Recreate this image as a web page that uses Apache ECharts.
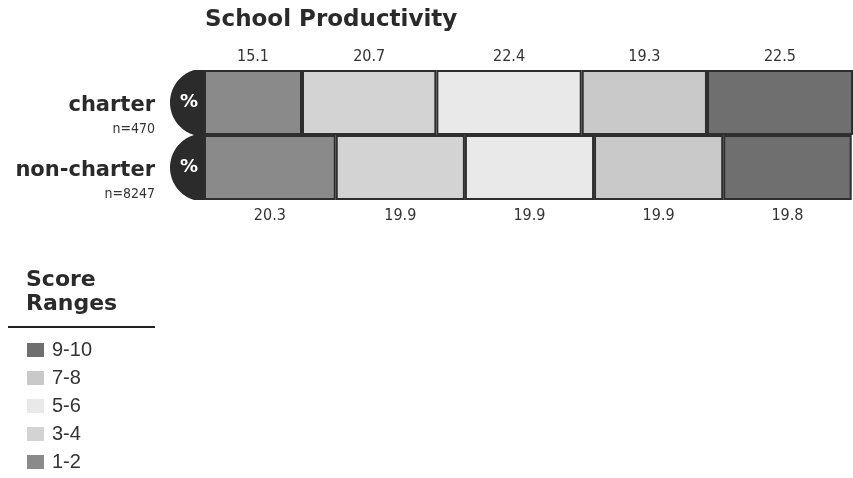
<!DOCTYPE html>
<html>
<head>
<meta charset="utf-8">
<title>School Productivity</title>
<script src="https://cdn.jsdelivr.net/npm/echarts@6/dist/echarts.min.js"></script>
<style>
  html, body { margin: 0; padding: 0; background: #ffffff; }
  #chart { width: 853px; height: 478px; }
</style>
</head>
<body>
<div id="chart"></div>
<script>
// School types and their sample sizes
const categories = ['charter', 'non-charter'];
const sampleSizes = ['n=470', 'n=8247'];

// Score ranges (legend order: highest first)
const scoreRanges = ['1-2', '3-4', '5-6', '7-8', '9-10'];
const legendOrder = ['9-10', '7-8', '5-6', '3-4', '1-2'];

// Percent of schools in each score range, per school type
const share12 = [15.1, 20.3];
const share34 = [20.7, 19.9];
const share56 = [22.4, 19.9];
const share78 = [19.3, 19.9];
const share910 = [22.5, 19.8];

const rangeColors = ['#8a8a8a', '#d3d3d3', '#e9e9e9', '#c9c9c9', '#6f6f6f'];
const seriesValues = [share12, share34, share56, share78, share910];

const narrowFont = "'Liberation Sans Narrow', 'DejaVu Sans', sans-serif";
const heavyFont = "'DejaVu Sans', sans-serif";

const barSeries = scoreRanges.map((name, s) => ({
  name: name,
  type: 'bar',
  stack: 'share',
  barWidth: '100%',
  z: 2,
  itemStyle: { color: rangeColors[s], borderColor: '#2e2e2e', borderWidth: 2 },
  label: {
    show: true,
    color: '#333',
    fontFamily: narrowFont,
    fontStyle: 'condensed',
    fontSize: 16,
    formatter: p => p.value.toFixed(1)
  },
  data: categories.map((c, i) => ({
    value: seriesValues[s][i],
    label: { position: i === 0 ? 'top' : 'bottom', distance: i === 0 ? 5 : 8 }
  }))
}));

// Dark rounded "%" cap at the left end of each row
const capSeries = {
  type: 'custom',
  z: 1,
  clip: false,
  silent: true,
  data: categories.map((c, i) => [0, i]),
  renderItem: function (params, api) {
    const p = api.coord([0, api.value(1)]);
    const h = api.size([0, 1])[1];
    const half = h / 2;
    const r = half + 1.5;
    const cx = p[0];
    const cy = p[1];
    const a = Math.asin(half / r);
    const pts = [];
    const steps = 40;
    for (let k = 0; k <= steps; k++) {
      const t = -a + (2 * a * k) / steps;
      pts.push([cx - r * Math.cos(t), cy + r * Math.sin(t)]);
    }
    pts.push([p[0] + 3, cy + half]);
    pts.push([p[0] + 3, cy - half]);
    return {
      type: 'group',
      children: [
        { type: 'polygon', shape: { points: pts }, style: { fill: '#2b2b2b' } },
        {
          type: 'text',
          style: {
            text: '%', x: p[0] - 15, y: cy, align: 'center', verticalAlign: 'middle',
            fill: '#ffffff', font: "bold 18px 'DejaVu Sans', sans-serif"
          }
        }
      ]
    };
  }
};

const chart = echarts.init(document.getElementById('chart'), null, { renderer: 'canvas' });

chart.setOption({
  backgroundColor: '#ffffff',
  animation: false,
  title: [
    {
      text: 'School Productivity',
      left: 205,
      top: 9,
      padding: 0,
      textStyle: { fontFamily: heavyFont, fontWeight: 'bold', fontSize: 23, color: '#2a2a2a' }
    },
    {
      text: 'Score\nRanges',
      left: 26,
      top: 268,
      padding: 0,
      textStyle: { fontFamily: heavyFont, fontWeight: 'bold', fontSize: 22, lineHeight: 24, color: '#2a2a2a' }
    }
  ],
  graphic: [
    {
      type: 'line',
      shape: { x1: 8, y1: 327, x2: 155, y2: 327 },
      style: { stroke: '#222', lineWidth: 2 }
    }
  ],
  legend: {
    data: legendOrder,
    orient: 'vertical',
    left: 27,
    top: 340,
    padding: 0,
    icon: 'rect',
    itemWidth: 17,
    itemHeight: 14,
    itemGap: 8,
    itemStyle: { borderWidth: 0 },
    textStyle: { fontFamily: "'Liberation Sans', Arial, sans-serif", fontSize: 20, color: '#333', padding: [0, 0, 0, 3] }
  },
  grid: { left: 204, right: -2, top: 70, bottom: 278 },
  xAxis: {
    type: 'value',
    min: 0,
    max: 100,
    show: false
  },
  yAxis: {
    type: 'category',
    data: categories,
    inverse: true,
    axisLine: { show: false },
    axisTick: { show: false },
    splitLine: { show: false },
    axisLabel: {
      margin: 49,
      align: 'right',
      padding: [29, 0, 0, 0],
      formatter: function (value, idx) {
        return '{a|' + value + '}\n{b|' + sampleSizes[idx] + '}';
      },
      rich: {
        a: { fontFamily: heavyFont, fontWeight: 'bold', fontSize: 21, lineHeight: 24, color: '#2a2a2a', align: 'right' },
        b: { fontFamily: narrowFont, fontStyle: 'condensed', fontSize: 14, lineHeight: 22, color: '#333', align: 'right' }
      }
    }
  },
  series: barSeries.concat([capSeries])
});
</script>
</body>
</html>
